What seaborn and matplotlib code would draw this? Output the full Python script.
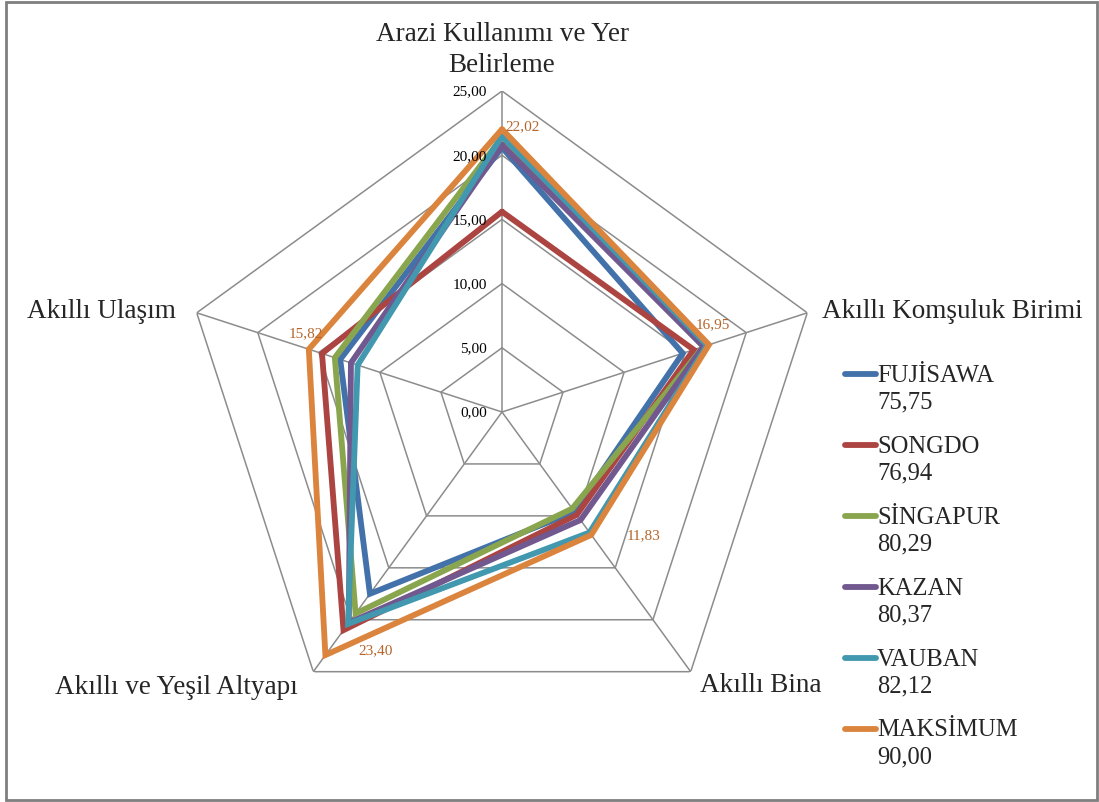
import numpy as np
import pandas as pd
import matplotlib
matplotlib.use("Agg")
import matplotlib.pyplot as plt
import seaborn as sns
from matplotlib.legend_handler import HandlerLine2D
from matplotlib.patches import Rectangle

# ---------------- data ----------------
categories = ["Arazi Kullanımı ve Yer\nBelirleme", "Akıllı Komşuluk Birimi",
              "Akıllı Bina", "Akıllı ve Yeşil Altyapı", "Akıllı Ulaşım"]
series_names = ["FUJİSAWA", "SONGDO", "SİNGAPUR", "KAZAN", "VAUBAN", "MAKSİMUM"]
series_totals = ["75,75", "76,94", "80,29", "80,37", "82,12", "90,00"]
fujisawa = [20.60, 14.80, 9.60, 17.50, 13.25]
songdo = [15.60, 15.70, 9.90, 21.00, 14.74]
singapur = [21.40, 16.50, 9.30, 19.40, 13.69]
kazan = [20.80, 16.50, 10.40, 20.30, 12.37]
vauban = [21.50, 16.80, 11.60, 20.40, 11.82]
maksimum = [22.02, 16.95, 11.83, 23.40, 15.82]
max_labels = ["22,02", "16,95", "11,83", "23,40", "15,82"]
ring_values = [0, 5, 10, 15, 20, 25]
ring_labels = ["0,00", "5,00", "10,00", "15,00", "20,00", "25,00"]

colors = ["#4372AA", "#AC4441", "#89A54E", "#71588F", "#4198AF", "#DB843D"]
label_color = "#B5642A"
grid_color = "#8C8C8C"

# ---------------- style ----------------
sns.set_style("white")
plt.rcParams["font.family"] = ["Liberation Serif", "DejaVu Serif"]

W, H = 1099, 803
fig = plt.figure(figsize=(W / 100, H / 100), dpi=100)

cx, cy, R = 502, 413, 321
ax = fig.add_axes([(cx - R) / W, (H - cy - R) / H, 2 * R / W, 2 * R / H], projection="polar")
ax.set_theta_offset(np.pi / 2)
ax.set_theta_direction(-1)
ax.set_ylim(0, 25)
ax.grid(False)
ax.set_xticks([])
ax.set_yticks([])
ax.spines["polar"].set_visible(False)
ax.patch.set_alpha(0)

n = len(categories)
angles = np.arange(n) * 2 * np.pi / n
angles_closed = np.append(angles, 2 * np.pi)

# grid: pentagon rings and spokes
for rv in ring_values[1:]:
    ax.plot(angles_closed, [rv] * (n + 1), color=grid_color, lw=1.1, zorder=1)
for a in angles:
    ax.plot([a, a], [0, 25], color=grid_color, lw=1.1, zorder=1)

# data
all_vals = [fujisawa, songdo, singapur, kazan, vauban, maksimum]
rows = []
for name, vals in zip(series_names, all_vals):
    for th, v in zip(angles_closed, list(vals) + [vals[0]]):
        rows.append({"theta": th, "r": v, "series": name})
df = pd.DataFrame(rows)
sns.lineplot(data=df, x="theta", y="r", hue="series", palette=colors,
             sort=False, estimator=None, lw=4.2, ax=ax, legend=False, zorder=3)
for line in ax.get_lines()[-len(series_names):]:
    line.set_solid_joinstyle("miter")
ax.set_xlabel("")
ax.set_ylabel("")
ax.set_ylim(0, 25)

# ring tick labels
for rv, lab in zip(ring_values, ring_labels):
    ax.annotate(lab, xy=(0, rv), xytext=(-15, 0), textcoords="offset pixels",
                ha="right", va="center", fontsize=11, color="#000000")

# max value labels
offsets = [(3, 4, "left"), (4, 21, "center"), (35, 0, "left"), (33, 5, "left"), (-3, 17, "center")]
for a, v, lab, (dx, dy, ha) in zip(angles, maksimum, max_labels, offsets):
    ax.annotate(lab, xy=(a, v), xytext=(dx, dy), textcoords="offset pixels",
                ha=ha, va="center", fontsize=11, color=label_color)

# category labels (figure pixel positions)
def ftext(x, y, s, ha, **kw):
    fig.text(x / W, 1 - y / H, s, ha=ha, va="center", fontsize=19.5, **kw)

ftext(502, 50, categories[0], "center", linespacing=1.32)
ftext(822, 312, categories[1], "left")
ftext(700, 686, categories[2], "left")
ftext(298, 688, categories[3], "right")
ftext(176, 312, categories[4], "right")

# legend
class UpHandler(HandlerLine2D):
    def create_artists(self, legend, orig_handle, xdescent, ydescent, width, height, fontsize, trans):
        arts = super().create_artists(legend, orig_handle, xdescent, ydescent, width, height, fontsize, trans)
        for art in arts:
            art.set_ydata(np.asarray(art.get_ydata()) + 10.0)
        return arts

proxy = [plt.Line2D([], [], color=c, lw=4.2, solid_capstyle="round") for c in colors]
labels = [f"{nm}\n{tt}" for nm, tt in zip(series_names, series_totals)]
leg = fig.legend(proxy, labels, loc="upper left", bbox_to_anchor=(845 / W, 1 - 365 / H),
                 frameon=False, fontsize=17.7, handlelength=1.25, handletextpad=0.06,
                 labelspacing=0.90, borderaxespad=0, borderpad=0,
                 handler_map={plt.Line2D: UpHandler()})
for t in leg.get_texts():
    t.set_linespacing(1.28)

# outer border
fig.add_artist(Rectangle((6 / W, 2 / H), 1091 / W, 798 / H, transform=fig.transFigure,
                         fill=False, edgecolor="#7F7F7F", lw=2))

fig.savefig("out.png", dpi=100)
